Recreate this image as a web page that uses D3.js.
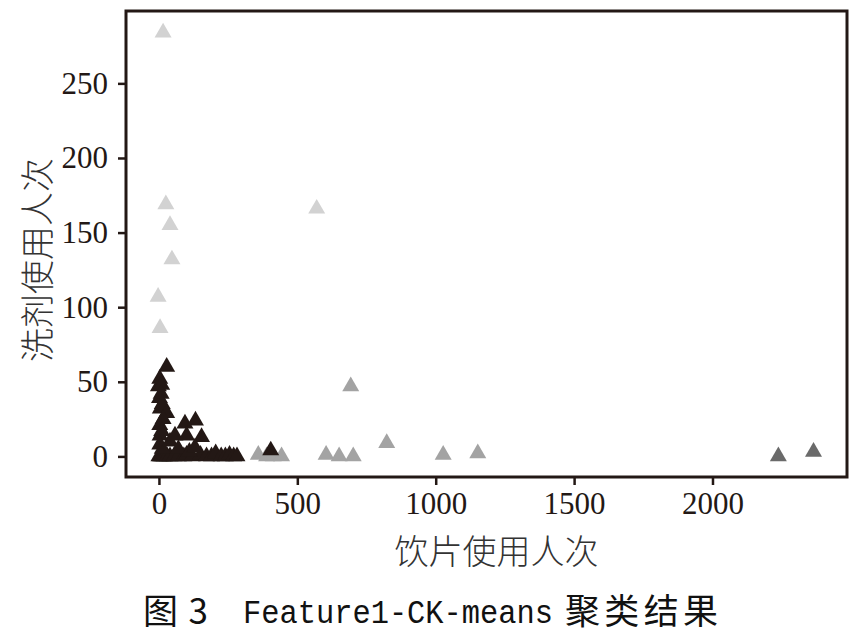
<!DOCTYPE html>
<html><head><meta charset="utf-8">
<script src="https://cdn.jsdelivr.net/npm/d3@7"></script>
<style>
html,body{margin:0;padding:0;background:#fff;}
svg{display:block;}
</style></head>
<body>
<svg id="chart" width="858" height="637"></svg>
<script>
// ---- data ----
const xTicks = [0, 500, 1000, 1500, 2000];
const yTicks = [0, 50, 100, 150, 200, 250];
const xTitle = "饮片使用人次";
const yTitle = "洗剂使用人次";
const captionParts = ["图 3", "Feature1-CK-means", "聚类结果"];

// cluster 1 (black)
const cluster1 = [
  [0,0],[5,0],[10,0],[15,0],[20,0],[30,0],[40,0],[55,0],[70,0],[90,0],[100,1],[120,0],
  [150,1],[172,0],[190,0],[205,2],[225,0],[240,0],[255,1],[270,0],[282,0],[404,4],
  [3,52],[-2,47],[10,48],[2,39],[8,42],[5,32],[12,35],[28,29],[3,21],[15,25],
  [4,14],[10,17],[3,8],[12,5],[28,60],
  [40,10],[58,14],[94,22],[100,14],[132,24],[154,13],[70,5],[110,3],[130,6]
];
// cluster 2 (light gray)
const cluster2 = [[15,284],[25,169],[40,155],[47,132],[-3,107],[4,86],[570,166]];
// cluster 3 (medium gray)
const cluster3 = [[359,1],[389,0],[413,0],[443,0],[604,1],[651,0],[702,0],[693,47],[823,9],[1027,1],[1152,2]];
// cluster 4 (dark gray)
const cluster4 = [[2238,0],[2365,3]];

const clusters = [
  {pts: cluster2, color: "#d2d2d2"},
  {pts: cluster3, color: "#a3a3a3"},
  {pts: cluster4, color: "#6a6a6a"},
  {pts: cluster1, color: "#231815"}
];

// ---- layout ----
const L = 126, R = 847, T = 11, B = 477;
const svg = d3.select("#chart");
const x = d3.scaleLinear().domain([-119, 2486]).range([L, R]);
const y = d3.scaleLinear().domain([-13.8, 298.5]).range([B, T]);

const tickFont = "'Liberation Serif','Times New Roman',serif";
const ink = "#231815";

// points
const sym = d3.symbol().type(d3.symbolTriangle).size(125);
clusters.forEach(c => {
  svg.append("g").selectAll("path").data(c.pts).join("path")
    .attr("d", sym)
    .attr("transform", d => `translate(${x(d[0])},${y(d[1])})`)
    .attr("fill", c.color);
});

// axes
const xAxis = svg.append("g").attr("transform", `translate(0,${B})`)
  .call(d3.axisBottom(x).tickValues(xTicks).tickSize(8).tickPadding(6).tickFormat(d3.format("d")));
const yAxis = svg.append("g").attr("transform", `translate(${L},0)`)
  .call(d3.axisLeft(y).tickValues(yTicks).tickSize(8).tickPadding(10).tickFormat(d3.format("d")));
[xAxis, yAxis].forEach(a => {
  a.select(".domain").remove();
  a.selectAll(".tick line").attr("stroke", ink).attr("stroke-width", 2.5);
  a.selectAll(".tick text").attr("fill", ink).style("font-family", tickFont).style("font-size", "31px");
});
xAxis.selectAll(".tick text").attr("dy", "0.75em");

// frame
svg.append("rect").attr("x", L).attr("y", T).attr("width", R - L).attr("height", B - T)
  .attr("fill", "none").attr("stroke", ink).attr("stroke-width", 3);

// axis titles
const cjk = "'Noto Sans CJK SC','Noto Sans CJK JP',sans-serif";
svg.append("text").text(xTitle)
  .attr("x", (L + R) / 2 + 10).attr("y", 564)
  .attr("text-anchor", "middle").attr("fill", "#333")
  .style("font-family", cjk).style("font-weight", 300).style("font-size", "34px");
svg.append("text").text(yTitle)
  .attr("transform", `translate(50,${(T + B) / 2 + 16}) rotate(-90)`)
  .attr("text-anchor", "middle").attr("fill", "#333")
  .style("font-family", cjk).style("font-weight", 300).style("font-size", "34px");

// caption
const capY = 624;
svg.append("text").text(captionParts[0])
  .attr("x", 143).attr("y", capY).attr("fill", "#111")
  .attr("textLength", 65).attr("lengthAdjust", "spacing")
  .style("font-family", cjk).style("font-size", "35px");
svg.append("text").text(captionParts[1])
  .attr("x", 243).attr("y", capY - 1).attr("fill", "#111")
  .attr("textLength", 310).attr("lengthAdjust", "spacingAndGlyphs")
  .style("font-family", "'Liberation Mono','DejaVu Sans Mono',monospace").style("font-size", "33px");
svg.append("text").text(captionParts[2])
  .attr("x", 565).attr("y", capY).attr("fill", "#111")
  .attr("textLength", 153).attr("lengthAdjust", "spacing")
  .style("font-family", cjk).style("font-size", "35px");
</script>
</body></html>
